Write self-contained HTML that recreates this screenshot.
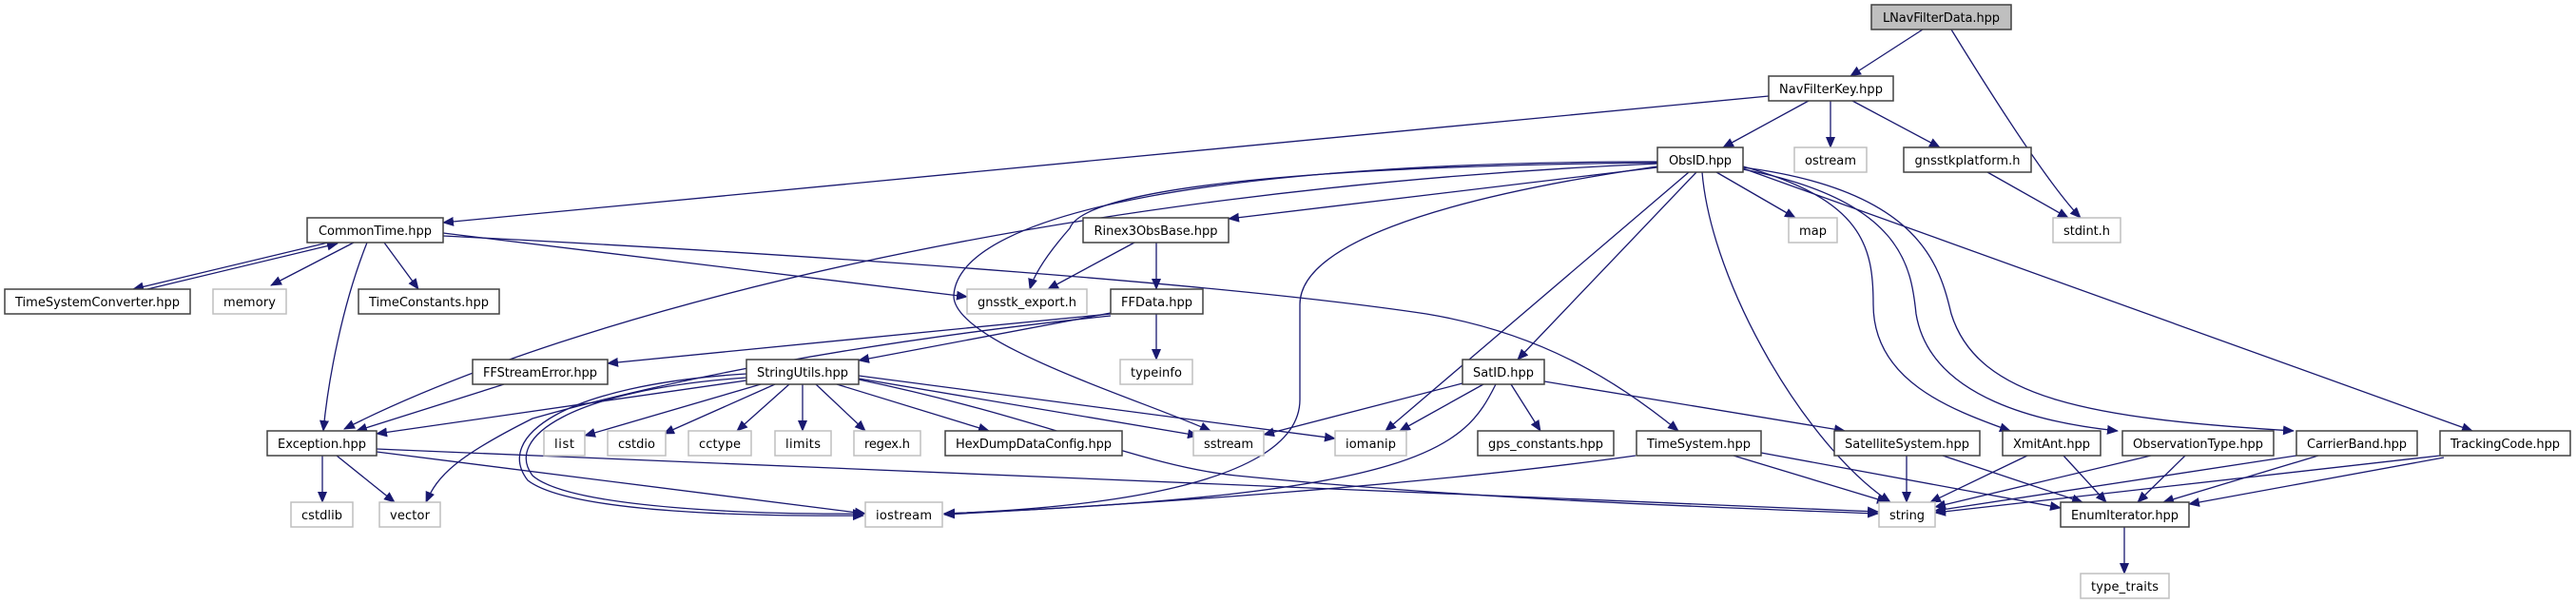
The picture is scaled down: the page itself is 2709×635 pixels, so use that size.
<!DOCTYPE html>
<html><head><meta charset="utf-8"><style>
html,body{margin:0;padding:0;background:#fff;}
svg{display:block;}
text{font-family:"DejaVu Sans","Liberation Sans",sans-serif;font-size:13px;fill:#000;}
.n{fill:#fff;stroke:#404040;stroke-width:1.5;}
.g{fill:#fff;stroke:#bfbfbf;stroke-width:1.5;}
.e{fill:none;stroke:#191970;stroke-width:1.3;marker-end:url(#a);}
</style></head><body>
<svg width="2709" height="635" viewBox="0 0 2709 635" xmlns="http://www.w3.org/2000/svg">
<defs><marker id="a" markerWidth="12" markerHeight="10" refX="11" refY="5" orient="auto" markerUnits="userSpaceOnUse"><path d="M0,0 L12,5 L0,10 z" fill="#191970"/></marker></defs>
<g>
<path class="e" d="M2022,31 L1946,80"/>
<path class="e" d="M2052,31 Q2150,190 2188,229"/>
<path class="e" d="M1902,106 L1812,155"/>
<path class="e" d="M1925,106 L1925,155"/>
<path class="e" d="M1948,106 L2040,155"/>
<path class="e" d="M1860,101 L466,234"/>
<path class="e" d="M2090,181 L2175,229"/>
<path class="e" d="M1805,181 L1888,229"/>
<path class="e" d="M1743,176 L1292,230"/>
<path class="e" d="M1743,171 C1350,175 1140,200 1125,240 Q1090,280 1083,304"/>
<path class="e" d="M1743,172 C1100,200 600,330 362,451"/>
<path class="e" d="M1743,170 C1300,170 1010,220 1003,310 C1000,360 1200,420 1273,453"/>
<path class="e" d="M1743,175 C1500,210 1367,260 1367,320 L1367,420 C1367,520 1100,536 993,540"/>
<path class="e" d="M1776,181 L1457,453"/>
<path class="e" d="M1784,181 L1596,378"/>
<path class="e" d="M1790,181 C1800,300 1900,470 1988,528"/>
<path class="e" d="M1833,175 C1960,210 1970,260 1970,320 C1970,400 2050,430 2114,453"/>
<path class="e" d="M1833,178 C2000,210 2010,280 2015,330 C2030,420 2150,445 2227,453"/>
<path class="e" d="M1833,176 C2020,200 2040,280 2052,330 C2080,420 2200,440 2412,453"/>
<path class="e" d="M1833,177 L2600,453"/>
<path class="e" d="M345,255 L140,304"/>
<path class="e" d="M155,304 L355,256"/>
<path class="e" d="M372,255 L285,300"/>
<path class="e" d="M404,255 L440,304"/>
<path class="e" d="M386,255 C360,320 345,400 340,453"/>
<path class="e" d="M466,245 L1017,312"/>
<path class="e" d="M466,248 C900,270 1300,300 1500,330 C1620,350 1700,400 1765,453"/>
<path class="e" d="M1193,255 L1102,304"/>
<path class="e" d="M1216,255 L1216,304"/>
<path class="e" d="M1216,330 L1216,378"/>
<path class="e" d="M1168,329 L903,379"/>
<path class="e" d="M1168,330 L639,382"/>
<path class="e" d="M1168,332 C900,360 700,400 560,440 C480,480 460,500 448,528"/>
<path class="e" d="M785,397 C600,410 530,460 560,500 C600,535 800,541 908,540"/>
<path class="e" d="M785,393 C590,405 520,460 555,505 C600,540 800,543 908,542"/>
<path class="e" d="M785,400 L396,456"/>
<path class="e" d="M530,404 L375,453"/>
<path class="e" d="M800,404 L615,458"/>
<path class="e" d="M815,404 L698,456"/>
<path class="e" d="M830,404 L775,453"/>
<path class="e" d="M844,404 L844,453"/>
<path class="e" d="M858,404 L910,453"/>
<path class="e" d="M880,404 L1040,453"/>
<path class="e" d="M903,398 L1260,458"/>
<path class="e" d="M903,395 L1404,461"/>
<path class="e" d="M903,399 C1100,440 1200,490 1300,500 C1500,520 1700,530 1975,540"/>
<path class="e" d="M339,479 L339,528"/>
<path class="e" d="M354,479 L415,528"/>
<path class="e" d="M396,475 L910,540"/>
<path class="e" d="M396,472 L1975,538"/>
<path class="e" d="M1538,403 L1329,457"/>
<path class="e" d="M1560,404 L1472,453"/>
<path class="e" d="M1589,404 L1620,453"/>
<path class="e" d="M1573,404 C1540,470 1500,520 993,540"/>
<path class="e" d="M1624,401 L1940,453"/>
<path class="e" d="M1720,479 C1500,510 1200,530 993,541"/>
<path class="e" d="M1823,479 L1985,528"/>
<path class="e" d="M1852,476 L2167,534"/>
<path class="e" d="M2005,479 L2005,528"/>
<path class="e" d="M2043,479 L2190,528"/>
<path class="e" d="M2132,479 L2030,528"/>
<path class="e" d="M2170,479 L2215,528"/>
<path class="e" d="M2262,479 L2035,533"/>
<path class="e" d="M2298,479 L2248,528"/>
<path class="e" d="M2415,479 L2035,537"/>
<path class="e" d="M2438,479 L2275,528"/>
<path class="e" d="M2566,479 L2035,539"/>
<path class="e" d="M2570,481 L2302,530"/>
<path class="e" d="M2234,554 L2234,603"/>
</g>
<g text-anchor="middle">
<rect x="1968" y="5" width="147" height="26" style="fill:#bfbfbf;stroke:#404040;stroke-width:1.5"/><text x="2041.5" y="23" textLength="123">LNavFilterData.hpp</text>
<rect class="n" x="1860" y="80" width="131" height="26"/><text x="1925.5" y="98" textLength="109">NavFilterKey.hpp</text>
<rect class="n" x="1743" y="155" width="90" height="26"/><text x="1788" y="173" textLength="66">ObsID.hpp</text>
<rect class="g" x="1887" y="155" width="76" height="26"/><text x="1925" y="173" textLength="54">ostream</text>
<rect class="n" x="2002" y="155" width="134" height="26"/><text x="2069" y="173" textLength="111">gnsstkplatform.h</text>
<rect class="n" x="323" y="229" width="143" height="26"/><text x="394.5" y="247" textLength="119">CommonTime.hpp</text>
<rect class="n" x="1139" y="229" width="153" height="26"/><text x="1215.5" y="247" textLength="130">Rinex3ObsBase.hpp</text>
<rect class="g" x="1881" y="229" width="51" height="26"/><text x="1906.5" y="247" textLength="29">map</text>
<rect class="g" x="2159" y="229" width="71" height="26"/><text x="2194.5" y="247" textLength="49">stdint.h</text>
<rect class="n" x="5" y="304" width="195" height="26"/><text x="102.5" y="322" textLength="173">TimeSystemConverter.hpp</text>
<rect class="g" x="224" y="304" width="77" height="26"/><text x="262.5" y="322" textLength="55">memory</text>
<rect class="n" x="377" y="304" width="148" height="26"/><text x="451" y="322" textLength="126">TimeConstants.hpp</text>
<rect class="g" x="1017" y="304" width="126" height="26"/><text x="1080" y="322" textLength="104">gnsstk_export.h</text>
<rect class="n" x="1168" y="304" width="97" height="26"/><text x="1216.5" y="322" textLength="75">FFData.hpp</text>
<rect class="n" x="497" y="378" width="142" height="26"/><text x="568" y="396" textLength="120">FFStreamError.hpp</text>
<rect class="n" x="785" y="378" width="118" height="26"/><text x="844" y="396" textLength="96">StringUtils.hpp</text>
<rect class="g" x="1178" y="378" width="76" height="26"/><text x="1216" y="396" textLength="54">typeinfo</text>
<rect class="n" x="1538" y="378" width="86" height="26"/><text x="1581" y="396" textLength="64">SatID.hpp</text>
<rect class="n" x="281" y="453" width="115" height="26"/><text x="338.5" y="471" textLength="93">Exception.hpp</text>
<rect class="g" x="572" y="453" width="43" height="26"/><text x="593.5" y="471" textLength="21">list</text>
<rect class="g" x="639" y="453" width="61" height="26"/><text x="669.5" y="471" textLength="39">cstdio</text>
<rect class="g" x="724" y="453" width="66" height="26"/><text x="757" y="471" textLength="44">cctype</text>
<rect class="g" x="815" y="453" width="59" height="26"/><text x="844.5" y="471" textLength="37">limits</text>
<rect class="g" x="898" y="453" width="70" height="26"/><text x="933" y="471" textLength="48">regex.h</text>
<rect class="n" x="994" y="453" width="186" height="26"/><text x="1087" y="471" textLength="164">HexDumpDataConfig.hpp</text>
<rect class="g" x="1255" y="453" width="74" height="26"/><text x="1292" y="471" textLength="52">sstream</text>
<rect class="g" x="1404" y="453" width="75" height="26"/><text x="1441.5" y="471" textLength="53">iomanip</text>
<rect class="n" x="1554" y="453" width="143" height="26"/><text x="1625.5" y="471" textLength="121">gps_constants.hpp</text>
<rect class="n" x="1721" y="453" width="131" height="26"/><text x="1786.5" y="471" textLength="109">TimeSystem.hpp</text>
<rect class="n" x="1929" y="453" width="153" height="26"/><text x="2005.5" y="471" textLength="131">SatelliteSystem.hpp</text>
<rect class="n" x="2106" y="453" width="103" height="26"/><text x="2157.5" y="471" textLength="81">XmitAnt.hpp</text>
<rect class="n" x="2232" y="453" width="159" height="26"/><text x="2311.5" y="471" textLength="137">ObservationType.hpp</text>
<rect class="n" x="2415" y="453" width="127" height="26"/><text x="2478.5" y="471" textLength="105">CarrierBand.hpp</text>
<rect class="n" x="2566" y="453" width="137" height="26"/><text x="2634.5" y="471" textLength="115">TrackingCode.hpp</text>
<rect class="g" x="306" y="528" width="65" height="26"/><text x="338.5" y="546" textLength="43">cstdlib</text>
<rect class="g" x="399" y="528" width="64" height="26"/><text x="431" y="546" textLength="42">vector</text>
<rect class="g" x="910" y="528" width="81" height="26"/><text x="950.5" y="546" textLength="59">iostream</text>
<rect class="g" x="1976" y="528" width="59" height="26"/><text x="2005.5" y="546" textLength="37">string</text>
<rect class="n" x="2167" y="528" width="135" height="26"/><text x="2234.5" y="546" textLength="113">EnumIterator.hpp</text>
<rect class="g" x="2188" y="603" width="93" height="26"/><text x="2234.5" y="621" textLength="71">type_traits</text>
</g>
</svg>
</body></html>
